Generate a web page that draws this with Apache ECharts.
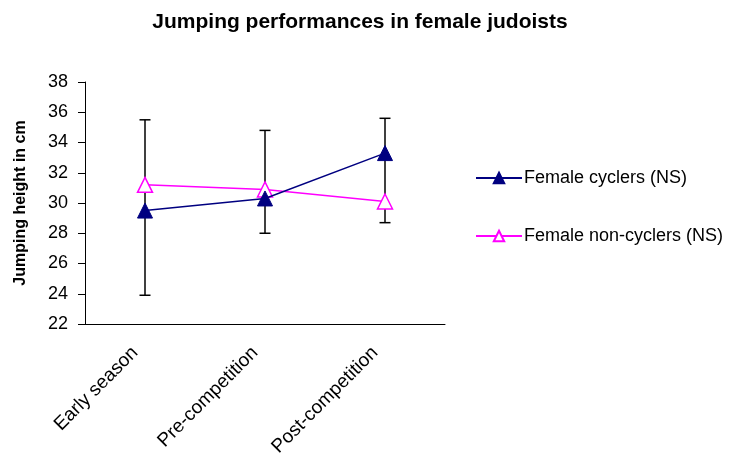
<!DOCTYPE html>
<html>
<head>
<meta charset="utf-8">
<script src="https://cdn.jsdelivr.net/npm/echarts@6/dist/echarts.min.js"></script>
<style>html,body{margin:0;padding:0;background:#fff}#c{width:729px;height:467px}</style>
</head>
<body>
<div id="c"></div>
<script>
var categories = ['Early season', 'Pre-competition', 'Post-competition'];
var cyclers = [29.5, 30.3, 33.3];
var nonCyclers = [31.2, 30.9, 30.1];
var errLow = [23.9, 28.0, 28.7];
var errHigh = [35.5, 34.8, 35.6];
var yTicks = [22, 24, 26, 28, 30, 32, 34, 36, 38];

var errData = categories.map(function (c, i) { return [i, errLow[i], errHigh[i]]; });
var font = 'Liberation Sans, Arial, sans-serif';
var chart = echarts.init(document.getElementById('c'));
chart.setOption({
  animation: false,
  backgroundColor: '#fff',
  title: {
    text: 'Jumping performances in female judoists',
    left: 355, top: 7, textAlign: 'center',
    textStyle: { fontFamily: font, fontSize: 21, fontWeight: 'bold', color: '#000' }
  },
  legend: {
    orient: 'vertical',
    left: 475, top: 169, padding: 0,
    itemGap: 40, itemWidth: 46, itemHeight: 13,
    textStyle: { fontFamily: font, fontSize: 18, color: '#000', padding: [0, 0, 0, -3] },
    data: ['Female cyclers (NS)', 'Female non-cyclers (NS)']
  },
  grid: { left: 85, right: 284, top: 82, bottom: 143 },
  xAxis: {
    type: 'category',
    data: categories,
    boundaryGap: true,
    axisLine: { lineStyle: { color: '#000', width: 1 } },
    axisTick: { show: false },
    axisLabel: { rotate: 45, fontFamily: font, fontSize: 19, color: '#000', margin: 16, interval: 0, padding: [0, 14, 0, 0] },
    splitLine: { show: false }
  },
  yAxis: {
    type: 'value',
    min: yTicks[0], max: yTicks[yTicks.length - 1], interval: 2,
    name: 'Jumping height in cm',
    nameLocation: 'middle', nameGap: 56, nameRotate: 90,
    nameTextStyle: { fontFamily: font, fontSize: 16, fontWeight: 'bold', color: '#000' },
    axisLine: { show: true, lineStyle: { color: '#000', width: 1 } },
    axisTick: { show: true, length: 7, inside: false, lineStyle: { color: '#000' } },
    axisLabel: { fontFamily: font, fontSize: 18, color: '#000', margin: 17 },
    splitLine: { show: false }
  },
  series: [
    {
      type: 'custom',
      name: 'err',
      z: 1,
      data: errData,
      encode: { x: 0, y: [1, 2] },
      renderItem: function (params, api) {
        var x = api.value(0);
        var lo = api.coord([x, api.value(1)]);
        var hi = api.coord([x, api.value(2)]);
        var hw = 5.5;
        var st = { stroke: '#000', lineWidth: 1.5 };
        return {
          type: 'group',
          children: [
            { type: 'line', shape: { x1: lo[0], y1: lo[1], x2: hi[0], y2: hi[1] }, style: st },
            { type: 'line', shape: { x1: lo[0] - hw, y1: lo[1], x2: lo[0] + hw, y2: lo[1] }, style: st },
            { type: 'line', shape: { x1: hi[0] - hw, y1: hi[1], x2: hi[0] + hw, y2: hi[1] }, style: st }
          ]
        };
      }
    },
    {
      type: 'line',
      name: 'Female cyclers (NS)',
      z: 3,
      data: cyclers,
      symbol: 'triangle', symbolSize: 15, showAllSymbol: true,
      lineStyle: { color: '#000080', width: 1.5 },
      itemStyle: { color: '#000080', borderColor: '#000080', borderWidth: 1 }
    },
    {
      type: 'line',
      name: 'Female non-cyclers (NS)',
      z: 2,
      data: nonCyclers,
      symbol: 'triangle', symbolSize: 15, showAllSymbol: true,
      lineStyle: { color: '#FF00FF', width: 1.5 },
      itemStyle: { color: '#fff', borderColor: '#FF00FF', borderWidth: 1.5 }
    }
  ]
});
</script>
</body>
</html>
